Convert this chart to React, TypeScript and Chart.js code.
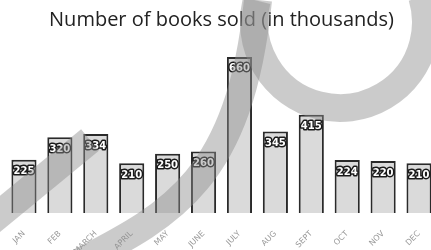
import React, { useEffect, useRef } from "react";
import { Chart, registerables } from "chart.js";

Chart.register(...registerables);

const months = ["JAN", "FEB", "MARCH", "APRIL", "MAY", "JUNE", "JULY", "AUG", "SEPT", "OCT", "NOV", "DEC"];
const booksSold = [225, 320, 334, 210, 250, 260, 660, 345, 415, 224, 220, 210];
const chartTitle = "Number of books sold (in thousands)";

const valueLabels = {
  id: "valueLabels",
  afterDatasetsDraw(chart: any) {
    const ctx = chart.ctx;
    const meta = chart.getDatasetMeta(0);
    ctx.save();
    ctx.font = "bold 10px 'DejaVu Sans'";
    ctx.textAlign = "center";
    ctx.textBaseline = "middle";
    ctx.lineJoin = "round";
    meta.data.forEach((bar: any, i: number) => {
      const txt = String(booksSold[i]);
      const y = bar.y + 12;
      ctx.strokeStyle = "#1a1a1a";
      ctx.lineWidth = 3;
      ctx.strokeText(txt, bar.x, y);
      ctx.fillStyle = "#ffffff";
      ctx.fillText(txt, bar.x, y);
    });
    ctx.restore();
  },
};

const watermark = {
  id: "watermark",
  afterDraw(chart: any) {
    const ctx = chart.ctx;
    ctx.save();
    ctx.strokeStyle = "rgba(140,140,140,0.45)";
    ctx.lineWidth = 28;
    ctx.lineCap = "butt";
    ctx.beginPath();
    ctx.arc(340, 22, 86, Math.PI * 1.08, -0.3, true);
    ctx.stroke();
    ctx.beginPath();
    ctx.moveTo(-10, 222);
    ctx.lineTo(90, 140);
    ctx.stroke();
    ctx.beginPath();
    ctx.moveTo(80, 262);
    ctx.bezierCurveTo(170, 215, 240, 180, 258, 0);
    ctx.stroke();
    ctx.restore();
  },
};

export default function App() {
  const ref = useRef<HTMLCanvasElement>(null);
  useEffect(() => {
    document.body.style.margin = "0";
    const chart = new Chart(ref.current!, {
      type: "bar",
      data: {
        labels: months,
        datasets: [
          {
            data: booksSold,
            backgroundColor: "#dadada",
            borderColor: "#2a2a2a",
            borderWidth: 2,
            barPercentage: 0.7,
            categoryPercentage: 1,
          },
        ],
      },
      options: {
        animation: false,
        responsive: false,
        maintainAspectRatio: false,
        layout: { padding: { left: 6, right: 0, top: 0, bottom: 0 } },
        plugins: {
          legend: { display: false },
          tooltip: { enabled: false },
          title: {
            display: true,
            text: chartTitle,
            color: "#222",
            font: { family: "'Open Sans'", size: 20, weight: "normal", lineHeight: 1.2 },
            padding: { top: 8, bottom: 10 },
          },
        },
        scales: {
          x: {
            afterFit(scale: any) {
              scale.height = 37;
            },
            grid: { display: false },
            border: { display: false },
            ticks: {
              minRotation: 45,
              maxRotation: 45,
              color: "#999",
              font: { family: "'DejaVu Sans'", size: 8 },
              padding: 8,
            },
          },
          y: { display: false, min: 0, max: 723 },
        },
      },
      plugins: [valueLabels, watermark],
    });
    return () => chart.destroy();
  }, []);
  return (
    <div style={{ width: 431, height: 250, overflow: "hidden" }}>
      <canvas ref={ref} width={437} height={250} style={{ display: "block" }} />
    </div>
  );
}
